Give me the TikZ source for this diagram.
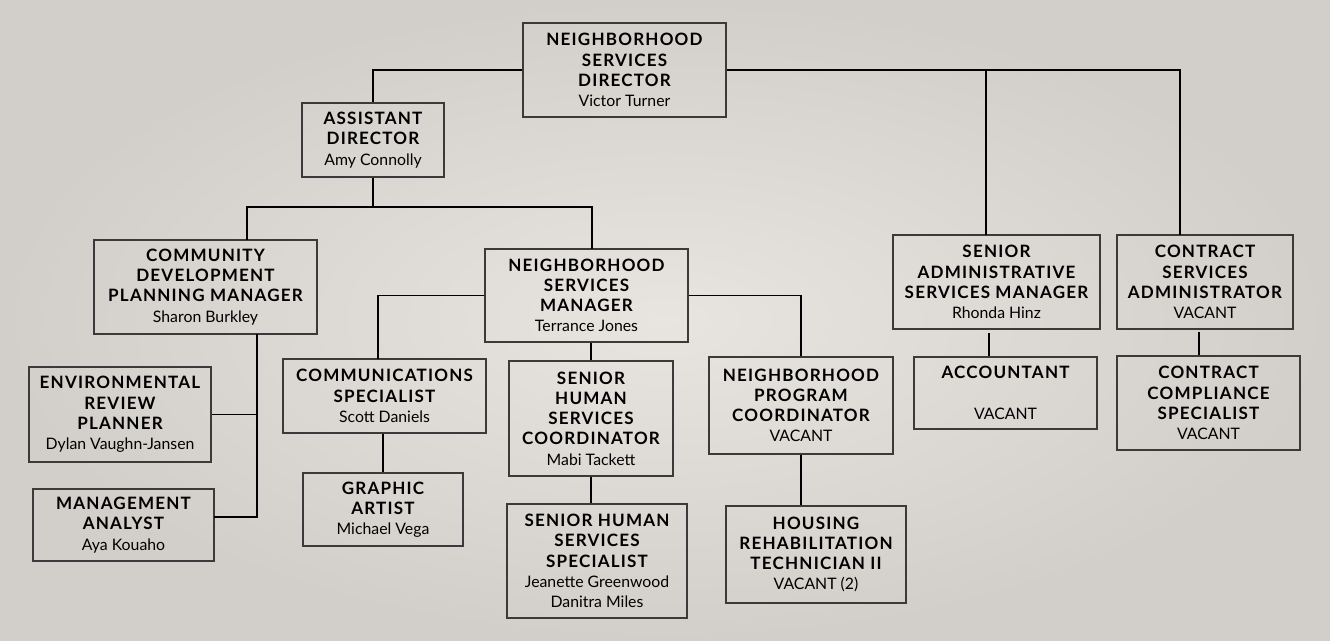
\documentclass[tikz,border=0pt]{standalone}
\usepackage{fontspec}
\setmainfont{Lato}[BoldFeatures={LetterSpace=7}]
\usetikzlibrary{positioning}

\definecolor{bgin}{HTML}{E8E5E1}
\definecolor{bgout}{HTML}{D2CEC9}
\definecolor{boxline}{HTML}{3A3A3A}
\newcommand{\ttl}[1]{{\fontsize{9.7}{11.5}\selectfont\bfseries #1}}

\begin{document}
\begin{tikzpicture}[x=0.02cm, y=-0.02cm,
    box/.style={draw=boxline, line width=0.8pt, align=center, inner sep=2pt,
                font=\fontsize{9}{11.5}\selectfont},
    link/.style={draw=black, line width=0.6pt}]
    % background, one unit = one pixel of the chart
    \shade[inner color=bgin, outer color=bgout] (0,0) rectangle (1330,641);
    \useasboundingbox (0,0) rectangle (1330,641);

    % top level
    \node[box, minimum width=4.06cm, minimum height=1.88cm] (dir) at (624.5,70)
        {\ttl{NEIGHBORHOOD}\\\ttl{SERVICES}\\\ttl{DIRECTOR}\\Victor Turner};
    \node[box, minimum width=2.84cm, minimum height=1.48cm] (asst) at (373,140)
        {\ttl{ASSISTANT}\\\ttl{DIRECTOR}\\Amy Connolly};

    % left branch
    \node[box, minimum width=4.46cm, minimum height=1.88cm] (cdpm) at (205.5,287)
        {\ttl{COMMUNITY}\\\ttl{DEVELOPMENT}\\\ttl{PLANNING MANAGER}\\Sharon Burkley};
    \node[box, minimum width=3.64cm, minimum height=1.90cm] (erp) at (120,414.5)
        {\ttl{ENVIRONMENTAL}\\\ttl{REVIEW}\\\ttl{PLANNER}\\Dylan Vaughn-Jansen};
    \node[box, minimum width=3.62cm, minimum height=1.44cm] (ma) at (123.5,525)
        {\ttl{MANAGEMENT}\\\ttl{ANALYST}\\Aya Kouaho};

    % neighborhood services
    \node[box, minimum width=4.06cm, minimum height=1.86cm] (nsm) at (586.5,295.5)
        {\ttl{NEIGHBORHOOD}\\\ttl{SERVICES}\\\ttl{MANAGER}\\Terrance Jones};
    \node[box, minimum width=4.06cm, minimum height=1.48cm] (comm) at (384.5,396)
        {\ttl{COMMUNICATIONS}\\\ttl{SPECIALIST}\\Scott Daniels};
    \node[box, minimum width=3.20cm, minimum height=1.46cm] (gra) at (383,509.5)
        {\ttl{GRAPHIC}\\\ttl{ARTIST}\\Michael Vega};
    \node[box, minimum width=3.28cm, minimum height=2.30cm] (shsc) at (591,418.5)
        {\ttl{SENIOR}\\\ttl{HUMAN}\\\ttl{SERVICES}\\\ttl{COORDINATOR}\\Mabi Tackett};
    \node[box, minimum width=3.60cm, minimum height=2.28cm] (shss) at (597,561)
        {\ttl{SENIOR HUMAN}\\\ttl{SERVICES}\\\ttl{SPECIALIST}\\Jeanette Greenwood\\Danitra Miles};
    \node[box, minimum width=3.68cm, minimum height=1.94cm] (npc) at (801,405.5)
        {\ttl{NEIGHBORHOOD}\\\ttl{PROGRAM}\\\ttl{COORDINATOR}\\VACANT};
    \node[box, minimum width=3.60cm, minimum height=1.94cm] (hrt) at (816,554.5)
        {\ttl{HOUSING}\\\ttl{REHABILITATION}\\\ttl{TECHNICIAN II}\\VACANT (2)};

    % right branches
    \node[box, minimum width=4.14cm, minimum height=1.88cm] (sasm) at (996.5,282)
        {\ttl{SENIOR}\\\ttl{ADMINISTRATIVE}\\\ttl{SERVICES MANAGER}\\Rhonda Hinz};
    \node[box, minimum width=3.66cm, minimum height=1.44cm] (acct) at (1005.5,393)
        {\ttl{ACCOUNTANT}\\[11.5pt]VACANT};
    \node[box, minimum width=3.52cm, minimum height=1.88cm] (csa) at (1205,282)
        {\ttl{CONTRACT}\\\ttl{SERVICES}\\\ttl{ADMINISTRATOR}\\VACANT};
    \node[box, minimum width=3.66cm, minimum height=1.88cm] (ccs) at (1208.5,403)
        {\ttl{CONTRACT}\\\ttl{COMPLIANCE}\\\ttl{SPECIALIST}\\VACANT};

    % joints of the connectors
    \coordinate (sasmtop) at (986,235);
    \coordinate (csatop) at (1180,235);
    \coordinate (asstjoin) at (373,207);
    \coordinate (cdpmtop) at (247,240);
    \coordinate (nsmtop) at (592,249);
    \coordinate (commtop) at (378,359);
    \coordinate (cdpmbot) at (257,334);
    \coordinate (maside) at (214,517);
    \coordinate (acctlink) at (989,333);
    \coordinate (ccslink) at (1199,332);

    % connectors
    \draw[link] (dir.west) -| (asst.north);
    \draw[link] (dir.east) -| (csatop);
    \draw[link] (sasmtop) |- (dir.east);
    \draw[link] (asst.south) -- (asstjoin);
    \draw[link] (cdpmtop) |- (asstjoin) -| (nsmtop);
    \draw[link] (cdpmbot) |- (maside);
    \draw[link] (erp.east) -- (erp.east -| cdpmbot);
    \draw[link] (nsm.west) -| (commtop);
    \draw[link] (nsm.east) -| (npc.north);
    \draw[link] (shsc.north) -- (shsc.north |- nsm.south);
    \draw[link] (shsc.south) -- (shsc.south |- shss.north);
    \draw[link] (comm.south -| gra.north) -- (gra.north);
    \draw[link] (npc.south) -- (npc.south |- hrt.north);
    \draw[link] (acctlink) -- (acctlink |- acct.north);
    \draw[link] (ccslink) -- (ccslink |- ccs.north);

\end{tikzpicture}
\end{document}
